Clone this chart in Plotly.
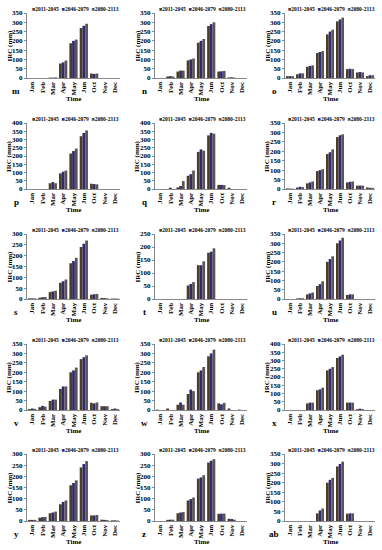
import plotly.graph_objects as go

months = ['Jan', 'Feb', 'Mar', 'Apr', 'May', 'Jun', 'Oct', 'Nov', 'Dec']
series_names = ['2011-2045', '2046-2079', '2080-2113']
colors = ['#4e3d26', '#2e2c70', '#5c5454']

# values per panel: [2011-2045, 2046-2079, 2080-2113]
m_vals = [[0, 0, 2, 78, 187, 269, 24, 0, 0],
          [0, 0, 2, 84, 200, 281, 22, 0, 0],
          [0, 0, 3, 94, 207, 292, 24, 0, 0]]
n_vals = [[0, 8, 35, 95, 190, 280, 35, 3, 0],
          [0, 10, 40, 100, 200, 290, 36, 4, 0],
          [0, 8, 40, 105, 210, 300, 38, 2, 0]]
o_vals = [[10, 20, 60, 135, 235, 305, 48, 30, 10],
          [10, 25, 65, 140, 250, 315, 50, 32, 15],
          [10, 25, 68, 145, 260, 325, 48, 30, 15]]
p_vals = [[0, 0, 35, 95, 215, 320, 32, 0, 0],
          [0, 0, 42, 105, 230, 340, 30, 0, 0],
          [0, 0, 35, 112, 245, 355, 28, 0, 0]]
q_vals = [[0, 0, 10, 80, 225, 325, 25, 8, 0],
          [0, 8, 18, 90, 240, 340, 25, 0, 0],
          [0, 0, 48, 112, 232, 335, 24, 0, 0]]
r_vals = [[3, 8, 30, 95, 185, 275, 35, 18, 8],
          [2, 12, 35, 100, 195, 285, 38, 18, 6],
          [2, 10, 40, 105, 210, 290, 40, 18, 6]]
s_vals = [[3, 6, 32, 75, 165, 240, 20, 5, 2],
          [3, 8, 35, 82, 175, 255, 22, 4, 2],
          [3, 9, 38, 90, 190, 270, 23, 3, 2]]
t_vals = [[0, 0, 0, 52, 130, 178, 0, 0, 0],
          [0, 0, 0, 58, 130, 182, 0, 0, 0],
          [0, 0, 0, 65, 145, 195, 0, 0, 0]]
u_vals = [[0, 3, 25, 70, 200, 300, 22, 0, 0],
          [0, 4, 30, 80, 215, 315, 25, 0, 0],
          [0, 4, 35, 95, 230, 330, 25, 0, 0]]
v_vals = [[5, 15, 48, 112, 200, 270, 38, 20, 5],
          [8, 22, 55, 125, 210, 280, 35, 20, 8],
          [6, 18, 55, 125, 225, 290, 40, 20, 5]]
w_vals = [[2, 8, 28, 85, 200, 285, 35, 8, 2],
          [0, 0, 40, 108, 210, 300, 30, 0, 0],
          [0, 0, 28, 100, 228, 320, 38, 0, 0]]
x_vals = [[0, 0, 40, 120, 240, 315, 45, 5, 0],
          [0, 0, 45, 125, 250, 325, 45, 8, 0],
          [0, 0, 45, 135, 260, 335, 45, 5, 0]]
y_vals = [[5, 15, 35, 75, 160, 240, 25, 6, 3],
          [5, 17, 38, 85, 170, 255, 25, 5, 3],
          [5, 18, 42, 92, 182, 268, 27, 4, 2]]
z_vals = [[0, 5, 35, 92, 190, 262, 32, 10, 0],
          [0, 6, 38, 98, 195, 270, 33, 9, 0],
          [0, 6, 40, 105, 205, 277, 33, 6, 0]]
ab_vals = [[0, 0, 0, 40, 200, 285, 38, 0, 0],
           [0, 0, 0, 55, 215, 298, 40, 0, 0],
           [0, 0, 0, 65, 225, 310, 40, 0, 0]]

panel_labels = ['m', 'n', 'o', 'p', 'q', 'r', 's', 't', 'u', 'v', 'w', 'x', 'y', 'z', 'ab']
panel_data = [m_vals, n_vals, o_vals, p_vals, q_vals, r_vals, s_vals, t_vals,
              u_vals, v_vals, w_vals, x_vals, y_vals, z_vals, ab_vals]
y_max = [350, 350, 350, 400, 400, 350, 300, 250, 350, 350, 350, 400, 300, 300, 350]

W, H = 382, 550
col_px = [(27, 120), (155, 247), (285, 375)]
row_px = [(13, 78), (123, 189), (234, 299), (344, 410), (454, 521)]

FONT = 'Liberation Serif, Times New Roman, serif'
fig = go.Figure()
annotations = []
layout = {}

for i, (lab, vals, ym) in enumerate(zip(panel_labels, panel_data, y_max)):
    r, c = divmod(i, 3)
    x0, x1 = col_px[c]
    yt, yb = row_px[r]
    dx = [x0 / W, x1 / W]
    dy = [1 - yb / H, 1 - yt / H]
    ax = '' if i == 0 else str(i + 1)
    for k in range(3):
        fig.add_trace(go.Bar(x=months, y=vals[k], name=series_names[k],
                             marker=dict(color=colors[k], line=dict(width=0)),
                             xaxis='x' + ax, yaxis='y' + ax, showlegend=False))
    layout['xaxis' + ax] = dict(domain=dx, anchor='y' + ax, type='category',
                                range=[-0.5, len(months) - 0.5],
                                tickmode='array', tickvals=months, ticktext=months,
                                tickangle=-90, automargin=False, ticks='',
                                tickfont=dict(family=FONT, size=7, color='black', weight='bold'),
                                showline=True, linecolor='#888', linewidth=1,
                                showgrid=False, zeroline=False, fixedrange=True)
    layout['yaxis' + ax] = dict(domain=dy, anchor='x' + ax, range=[0, ym], dtick=50,
                                showline=True, linecolor='#888', linewidth=1, automargin=False,
                                ticks='outside', ticklen=2, tickcolor='#888',
                                tickfont=dict(family=FONT, size=7, color='black', weight='bold'),
                                showgrid=False, zeroline=False, fixedrange=True)
    cx = (x0 + x1) / 2 / W
    # legend row
    leg = '  '.join(f"<span style='color:{colors[k]}'>■</span>{series_names[k]}" for k in range(3))
    annotations.append(dict(text='<b>' + leg + '</b>', x=cx + 2 / W, y=1 - (yt - 4) / H,
                            xref='paper', yref='paper',
                            showarrow=False, xanchor='center', yanchor='middle',
                            font=dict(family=FONT, size=5.5, color='black')))
    # y title
    annotations.append(dict(text='<b>IRC (mm)</b>', x=(x0 - 18) / W, y=(dy[0] + dy[1]) / 2,
                            xref='paper', yref='paper', showarrow=False, textangle=-90,
                            xanchor='center', yanchor='middle',
                            font=dict(family=FONT, size=7, color='black')))
    # x title
    annotations.append(dict(text='<b>Time</b>', x=cx, y=1 - (yb + 21) / H, xref='paper', yref='paper',
                            showarrow=False, xanchor='center', yanchor='middle',
                            font=dict(family=FONT, size=7, color='black')))
    # panel letter
    annotations.append(dict(text='<b>' + lab + '</b>', x=(x0 - 11) / W, y=1 - (yb + 13) / H,
                            xref='paper', yref='paper',
                            showarrow=False, xanchor='center', yanchor='middle',
                            font=dict(family=FONT, size=9, color='black')))

fig.update_layout(**layout)
fig.update_layout(width=W, height=H, margin=dict(l=0, r=0, t=0, b=0),
                  paper_bgcolor='white', plot_bgcolor='white',
                  barmode='group', bargap=0.2, bargroupgap=0.0,
                  annotations=annotations, showlegend=False)
fig.write_html('out.html', config={'displayModeBar': False, 'staticPlot': True},
               post_script="document.body.style.margin='0';document.body.style.overflow='hidden';")
